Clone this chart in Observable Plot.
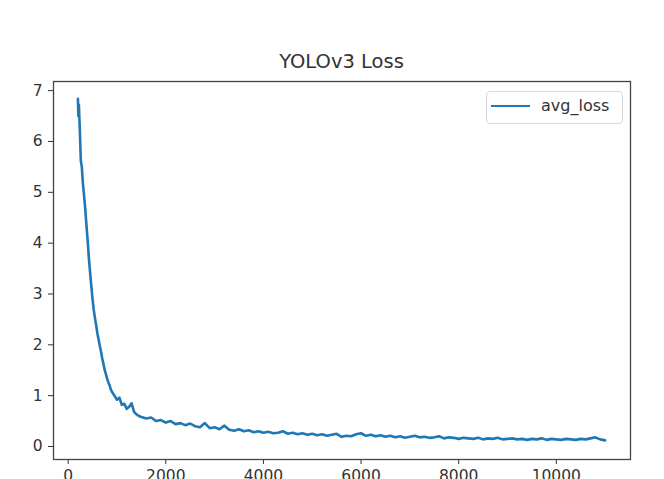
<!DOCTYPE html>
<html>
<head>
<meta charset="utf-8">
<script src="https://cdn.jsdelivr.net/npm/d3@7"></script>
<script src="https://cdn.jsdelivr.net/npm/@observablehq/plot@0.6"></script>
<style>
  html, body { margin: 0; padding: 0; background: #fff; }
  #wrap { position: relative; width: 664px; height: 479px; overflow: hidden; font-family: "DejaVu Sans", sans-serif; }
  #title { position: absolute; left: 0; width: 683px; top: 50px; text-align: center; font-size: 19.5px; color: #333; }
  #legend { position: absolute; left: 486px; top: 91px; width: 135px; height: 31px; border: 1px solid #d8d8d8; border-radius: 4px; background: rgba(255,255,255,0.8); }
  #legend .sw { position: absolute; left: 4px; top: 13px; width: 39px; height: 0; border-top: 2px solid #1f77b4; }
  #legend .lb { position: absolute; left: 54px; top: 4px; font-size: 16px; color: #333; }
  #chart { position: absolute; left: 0; top: 0; }
</style>
</head>
<body>
<div id="wrap">
  <div id="chart"></div>
  <div id="title">YOLOv3 Loss</div>
  <div id="legend"><div class="sw"></div><div class="lb">avg_loss</div></div>
</div>
<script>
const seriesName = "avg_loss";
const iterations = [
  200, 210, 220, 240, 260, 280, 300, 325, 350, 375, 400, 425, 450, 475, 500, 525, 550, 575, 600, 625,
  650, 675, 700, 725, 750, 775, 800, 825, 850, 875, 900, 950, 1000, 1050, 1100, 1150, 1200, 1250, 1300, 1350,
  1400, 1450, 1500, 1600, 1700, 1800, 1900, 2000, 2100, 2200, 2300, 2400, 2500, 2600, 2700, 2800, 2900, 3000,
  3100, 3200, 3300, 3400, 3500, 3600, 3700, 3800, 3900, 4000, 4100, 4200, 4300, 4400, 4500, 4600, 4700, 4800,
  4900, 5000, 5100, 5200, 5300, 5400, 5500, 5600, 5700, 5800, 5900, 6000, 6100, 6200, 6300, 6400, 6500, 6600,
  6700, 6800, 6900, 7000, 7100, 7200, 7300, 7400, 7500, 7600, 7700, 7800, 7900, 8000, 8100, 8200, 8300, 8400,
  8500, 8600, 8700, 8800, 8900, 9000, 9100, 9200, 9300, 9400, 9500, 9600, 9700, 9800, 9900, 10000, 10100, 10200,
  10300, 10400, 10500, 10600, 10700, 10800, 10900, 11000
];
const avgLoss = [
  6.84, 6.5, 6.72, 6.2, 5.62, 5.5, 5.2, 4.95, 4.68, 4.35, 4.05, 3.7, 3.42, 3.15, 2.9, 2.68, 2.52, 2.38, 2.22, 2.1,
  1.97, 1.86, 1.72, 1.62, 1.5, 1.42, 1.33, 1.26, 1.2, 1.12, 1.07, 1.0, 0.92, 0.96, 0.82, 0.84, 0.74, 0.78, 0.85, 0.68,
  0.63, 0.6, 0.58, 0.55, 0.57, 0.5, 0.52, 0.47, 0.5, 0.44, 0.46, 0.42, 0.45, 0.4, 0.38, 0.46, 0.36, 0.38,
  0.34, 0.41, 0.33, 0.31, 0.34, 0.3, 0.32, 0.28, 0.3, 0.27, 0.29, 0.26, 0.27, 0.3, 0.25, 0.27, 0.24, 0.26,
  0.23, 0.25, 0.22, 0.24, 0.21, 0.23, 0.25, 0.19, 0.21, 0.2, 0.24, 0.26, 0.21, 0.23, 0.2, 0.22, 0.19, 0.21,
  0.18, 0.2, 0.17, 0.19, 0.21, 0.18, 0.19, 0.17, 0.18, 0.2, 0.16, 0.18, 0.17, 0.15, 0.17, 0.16, 0.15, 0.17,
  0.14, 0.16, 0.15, 0.17, 0.14, 0.15, 0.16, 0.14, 0.15, 0.13, 0.15, 0.14, 0.16, 0.13, 0.15, 0.14, 0.13, 0.15,
  0.14, 0.13, 0.15, 0.14, 0.16, 0.18, 0.14, 0.12
];
const xTicks = [0, 2000, 4000, 6000, 8000, 10000];
const yTicks = [0, 1, 2, 3, 4, 5, 6, 7];

const data = iterations.map((x, i) => ({x, y: avgLoss[i], series: seriesName}));

const chart = Plot.plot({
  width: 664,
  height: 479,
  marginLeft: 53,
  marginRight: 34,
  marginTop: 81,
  marginBottom: 20,
  style: {fontFamily: "DejaVu Sans, sans-serif", fontSize: "15.5px", color: "#333", background: "white"},
  x: {domain: [-300, 11520], ticks: xTicks, tickFormat: d => String(d), tickSize: 5, tickPadding: 5, label: null},
  y: {domain: [-0.256, 7.18], ticks: yTicks, tickFormat: d => String(d), tickSize: 5, tickPadding: 6, label: null},
  marks: [
    Plot.line(data, {x: "x", y: "y", stroke: "#1f77b4", strokeWidth: 2.6, strokeLinejoin: "round"}),
    Plot.frame({stroke: "#444", strokeWidth: 1.3})
  ]
});
document.getElementById("chart").appendChild(chart);
</script>
</body>
</html>
